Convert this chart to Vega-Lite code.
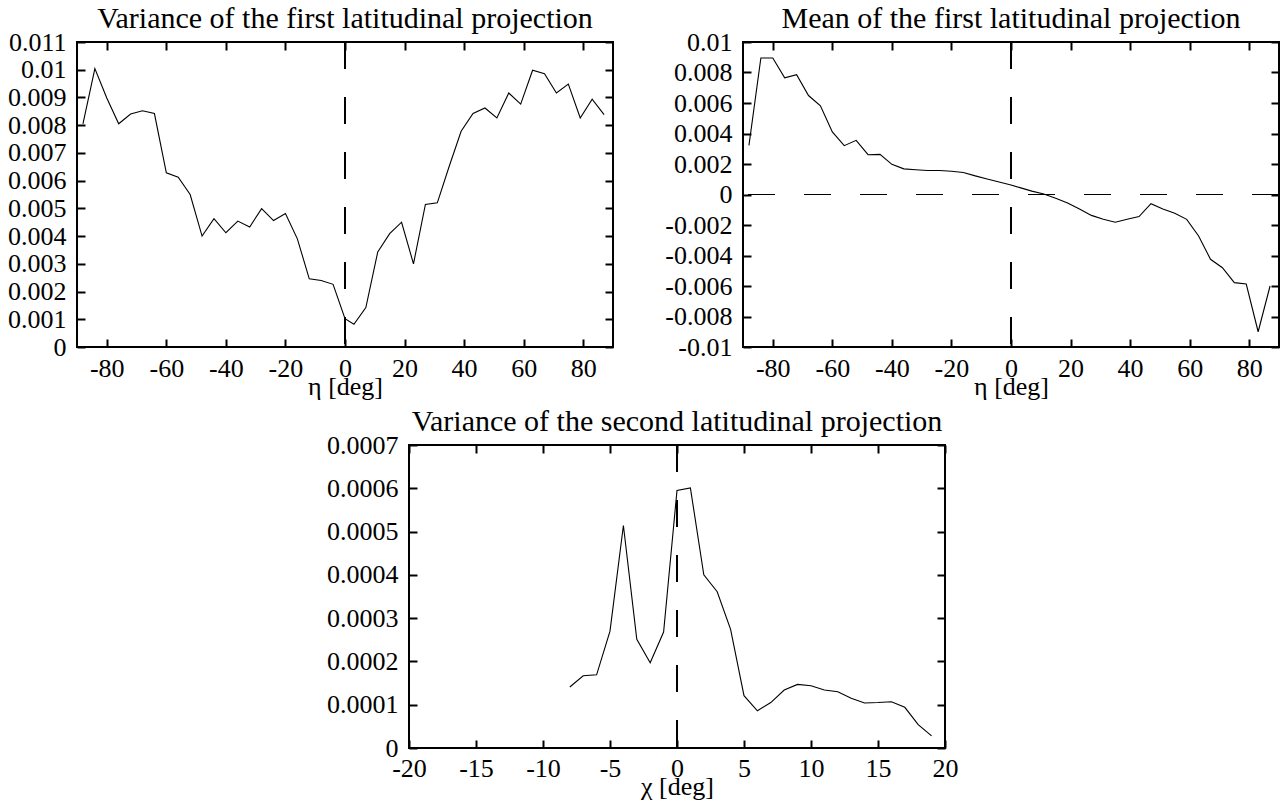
{
  "$schema": "https://vega.github.io/schema/vega-lite/v6.json",
  "background": "white",
  "padding": {"left": 6, "top": 3, "right": 0, "bottom": 0},
  "config": {
    "font": "Liberation Serif",
    "view": {"stroke": "black", "strokeWidth": 2},
    "axis": {
      "grid": false, "domain": false, "minExtent": 0,
      "tickColor": "black", "tickWidth": 2, "tickSize": -8,
      "labelFont": "Liberation Serif", "labelFontSize": 26, "labelColor": "black",
      "labelPadding": 19, "labelFlush": false, "labelOverlap": false,
      "labelExpr": "replace(format(datum.value, '~g'), '−', '-')",
      "titleFont": "Liberation Serif", "titleFontSize": 26, "titleFontWeight": "normal", "titleColor": "black"
    },
    "axisBottom": {"labelPadding": 16, "titlePadding": -8},
    "title": {"font": "Liberation Serif", "fontSize": 30, "fontWeight": "normal", "color": "black", "offset": -5}
  },
  "datasets": {
    "var1": [
      {"eta": -88, "v": 0.00805}, {"eta": -84, "v": 0.01004}, {"eta": -80, "v": 0.00898}, {"eta": -76, "v": 0.00805},
      {"eta": -72, "v": 0.0084}, {"eta": -68, "v": 0.00852}, {"eta": -64, "v": 0.00842}, {"eta": -60, "v": 0.00628},
      {"eta": -56, "v": 0.00612}, {"eta": -52, "v": 0.0055}, {"eta": -48, "v": 0.004}, {"eta": -44, "v": 0.00463},
      {"eta": -40, "v": 0.00412}, {"eta": -36, "v": 0.00454}, {"eta": -32, "v": 0.00433}, {"eta": -28, "v": 0.00499},
      {"eta": -24, "v": 0.00456}, {"eta": -20, "v": 0.00481}, {"eta": -16, "v": 0.0039}, {"eta": -12, "v": 0.00246},
      {"eta": -8, "v": 0.0024}, {"eta": -4, "v": 0.00226}, {"eta": 0, "v": 0.00102}, {"eta": 3, "v": 0.00082},
      {"eta": 7, "v": 0.00142}, {"eta": 11, "v": 0.00343}, {"eta": 15, "v": 0.00409}, {"eta": 19, "v": 0.0045},
      {"eta": 23, "v": 0.003}, {"eta": 27, "v": 0.00514}, {"eta": 31, "v": 0.0052}, {"eta": 35, "v": 0.00652},
      {"eta": 39, "v": 0.00778}, {"eta": 43, "v": 0.00842}, {"eta": 47, "v": 0.00862}, {"eta": 51, "v": 0.00826},
      {"eta": 55, "v": 0.00916}, {"eta": 59, "v": 0.00876}, {"eta": 63, "v": 0.00998}, {"eta": 67, "v": 0.00986},
      {"eta": 71, "v": 0.00916}, {"eta": 75, "v": 0.00948}, {"eta": 79, "v": 0.00826}, {"eta": 83, "v": 0.00894},
      {"eta": 87, "v": 0.00838}
    ],
    "mean1": [
      {"eta": -88, "m": 0.00322}, {"eta": -84, "m": 0.00895}, {"eta": -80, "m": 0.00895}, {"eta": -76, "m": 0.00765},
      {"eta": -72, "m": 0.00786}, {"eta": -68, "m": 0.00649}, {"eta": -64, "m": 0.00582}, {"eta": -60, "m": 0.0041},
      {"eta": -56, "m": 0.0032}, {"eta": -52, "m": 0.00355}, {"eta": -48, "m": 0.00261}, {"eta": -44, "m": 0.00263},
      {"eta": -40, "m": 0.00198}, {"eta": -36, "m": 0.00168}, {"eta": -32, "m": 0.00162}, {"eta": -28, "m": 0.00157},
      {"eta": -24, "m": 0.00157}, {"eta": -20, "m": 0.00152}, {"eta": -16, "m": 0.00144}, {"eta": -12, "m": 0.00122},
      {"eta": -8, "m": 0.00102}, {"eta": -4, "m": 0.00082}, {"eta": 0, "m": 0.00062}, {"eta": 3, "m": 0.00045},
      {"eta": 7, "m": 0.00022}, {"eta": 11, "m": 0.00003}, {"eta": 15, "m": -0.00025}, {"eta": 19, "m": -0.00055},
      {"eta": 23, "m": -0.00095}, {"eta": 27, "m": -0.00137}, {"eta": 31, "m": -0.00162}, {"eta": 35, "m": -0.00182},
      {"eta": 39, "m": -0.00162}, {"eta": 43, "m": -0.00145}, {"eta": 47, "m": -0.0006}, {"eta": 51, "m": -0.00095},
      {"eta": 55, "m": -0.00123}, {"eta": 59, "m": -0.00163}, {"eta": 63, "m": -0.00272}, {"eta": 67, "m": -0.00425},
      {"eta": 71, "m": -0.0048}, {"eta": 75, "m": -0.00578}, {"eta": 79, "m": -0.00587}, {"eta": 83, "m": -0.009},
      {"eta": 87, "m": -0.006}
    ],
    "var2": [
      {"chi": -8, "v": 0.000141}, {"chi": -7, "v": 0.000167}, {"chi": -6, "v": 0.000169}, {"chi": -5, "v": 0.00027},
      {"chi": -4, "v": 0.000514}, {"chi": -3, "v": 0.000251}, {"chi": -2, "v": 0.000197}, {"chi": -1, "v": 0.000268},
      {"chi": 0, "v": 0.000595}, {"chi": 1, "v": 0.000601}, {"chi": 2, "v": 0.0004}, {"chi": 3, "v": 0.000361},
      {"chi": 4, "v": 0.000274}, {"chi": 5, "v": 0.000121}, {"chi": 6, "v": 0.000086}, {"chi": 7, "v": 0.000105},
      {"chi": 8, "v": 0.000134}, {"chi": 9, "v": 0.000147}, {"chi": 10, "v": 0.000144}, {"chi": 11, "v": 0.000134},
      {"chi": 12, "v": 0.00013}, {"chi": 13, "v": 0.000115}, {"chi": 14, "v": 0.000104}, {"chi": 15, "v": 0.000105},
      {"chi": 16, "v": 0.000107}, {"chi": 17, "v": 0.000094}, {"chi": 18, "v": 0.000054}, {"chi": 19, "v": 0.000028}
    ]
  },
  "spacing": 6,
  "vconcat": [
    {
      "spacing": 48,
      "hconcat": [
        {
          "title": "Variance of the first latitudinal projection",
          "width": 536, "height": 305,
          "data": {"name": "var1"},
          "layer": [
            {
              "mark": {"type": "line", "color": "black", "strokeWidth": 1.1},
              "encoding": {
                "x": {"field": "eta", "type": "quantitative", "scale": {"domain": [-90, 90], "nice": false, "zero": false},
                      "axis": {"orient": "bottom", "title": "η [deg]", "values": [-80, -60, -40, -20, 0, 20, 40, 60, 80]}},
                "y": {"field": "v", "type": "quantitative", "scale": {"domain": [0, 0.011], "nice": false},
                      "axis": {"orient": "left", "title": null, "values": [0, 0.001, 0.002, 0.003, 0.004, 0.005, 0.006, 0.007, 0.008, 0.009, 0.01, 0.011]}}
              }
            },
            {
              "mark": {"type": "line", "opacity": 0},
              "encoding": {
                "x": {"field": "eta", "type": "quantitative", "axis": {"orient": "top", "title": null, "labels": false, "values": [-80, -60, -40, -20, 0, 20, 40, 60, 80]}},
                "y": {"field": "v", "type": "quantitative", "axis": {"orient": "right", "title": null, "labels": false, "values": [0, 0.001, 0.002, 0.003, 0.004, 0.005, 0.006, 0.007, 0.008, 0.009, 0.01, 0.011]}}
              }
            },
            {
              "mark": {"type": "rule", "color": "black", "strokeWidth": 1, "strokeDash": [27, 28]},
              "encoding": {"x": {"datum": 0, "type": "quantitative", "axis": null}}
            }
          ],
          "resolve": {"axis": {"x": "independent", "y": "independent"}}
        },
        {
          "title": "Mean of the first latitudinal projection",
          "width": 536, "height": 305,
          "data": {"name": "mean1"},
          "layer": [
            {
              "mark": {"type": "line", "color": "black", "strokeWidth": 1.1},
              "encoding": {
                "x": {"field": "eta", "type": "quantitative", "scale": {"domain": [-90, 90], "nice": false, "zero": false},
                      "axis": {"orient": "bottom", "title": "η [deg]", "values": [-80, -60, -40, -20, 0, 20, 40, 60, 80]}},
                "y": {"field": "m", "type": "quantitative", "scale": {"domain": [-0.01, 0.01], "nice": false},
                      "axis": {"orient": "left", "title": null, "values": [-0.01, -0.008, -0.006, -0.004, -0.002, 0, 0.002, 0.004, 0.006, 0.008, 0.01]}}
              }
            },
            {
              "mark": {"type": "line", "opacity": 0},
              "encoding": {
                "x": {"field": "eta", "type": "quantitative", "axis": {"orient": "top", "title": null, "labels": false, "values": [-80, -60, -40, -20, 0, 20, 40, 60, 80]}},
                "y": {"field": "m", "type": "quantitative", "axis": {"orient": "right", "title": null, "labels": false, "values": [-0.01, -0.008, -0.006, -0.004, -0.002, 0, 0.002, 0.004, 0.006, 0.008, 0.01]}}
              }
            },
            {
              "mark": {"type": "rule", "color": "black", "strokeWidth": 1, "strokeDash": [27, 28]},
              "encoding": {"x": {"datum": 0, "type": "quantitative", "axis": null}}
            },
            {
              "mark": {"type": "rule", "color": "black", "strokeWidth": 1, "strokeDash": [27, 29]},
              "encoding": {"y": {"datum": 0, "type": "quantitative", "axis": null}}
            }
          ],
          "resolve": {"axis": {"x": "independent", "y": "independent"}}
        }
      ]
    },
    {
      "spacing": 10,
      "hconcat": [
        {
          "width": 238, "height": 10,
          "view": {"stroke": null},
          "data": {"values": []},
          "mark": {"type": "point", "opacity": 0},
          "encoding": {}
        },
        {
          "title": "Variance of the second latitudinal projection",
          "width": 536, "height": 303,
          "data": {"name": "var2"},
          "layer": [
            {
              "mark": {"type": "line", "color": "black", "strokeWidth": 1.1},
              "encoding": {
                "x": {"field": "chi", "type": "quantitative", "scale": {"domain": [-20, 20], "nice": false, "zero": false},
                      "axis": {"orient": "bottom", "title": "χ [deg]", "labelPadding": 15, "values": [-20, -15, -10, -5, 0, 5, 10, 15, 20]}},
                "y": {"field": "v", "type": "quantitative", "scale": {"domain": [0, 0.0007], "nice": false},
                      "axis": {"orient": "left", "title": null, "values": [0, 0.0001, 0.0002, 0.0003, 0.0004, 0.0005, 0.0006, 0.0007]}}
              }
            },
            {
              "mark": {"type": "line", "opacity": 0},
              "encoding": {
                "x": {"field": "chi", "type": "quantitative", "axis": {"orient": "top", "title": null, "labels": false, "values": [-20, -15, -10, -5, 0, 5, 10, 15, 20]}},
                "y": {"field": "v", "type": "quantitative", "axis": {"orient": "right", "title": null, "labels": false, "values": [0, 0.0001, 0.0002, 0.0003, 0.0004, 0.0005, 0.0006, 0.0007]}}
              }
            },
            {
              "mark": {"type": "rule", "color": "black", "strokeWidth": 1, "strokeDash": [27, 28]},
              "encoding": {"x": {"datum": 0, "type": "quantitative", "axis": null}}
            }
          ],
          "resolve": {"axis": {"x": "independent", "y": "independent"}}
        }
      ]
    }
  ]
}
